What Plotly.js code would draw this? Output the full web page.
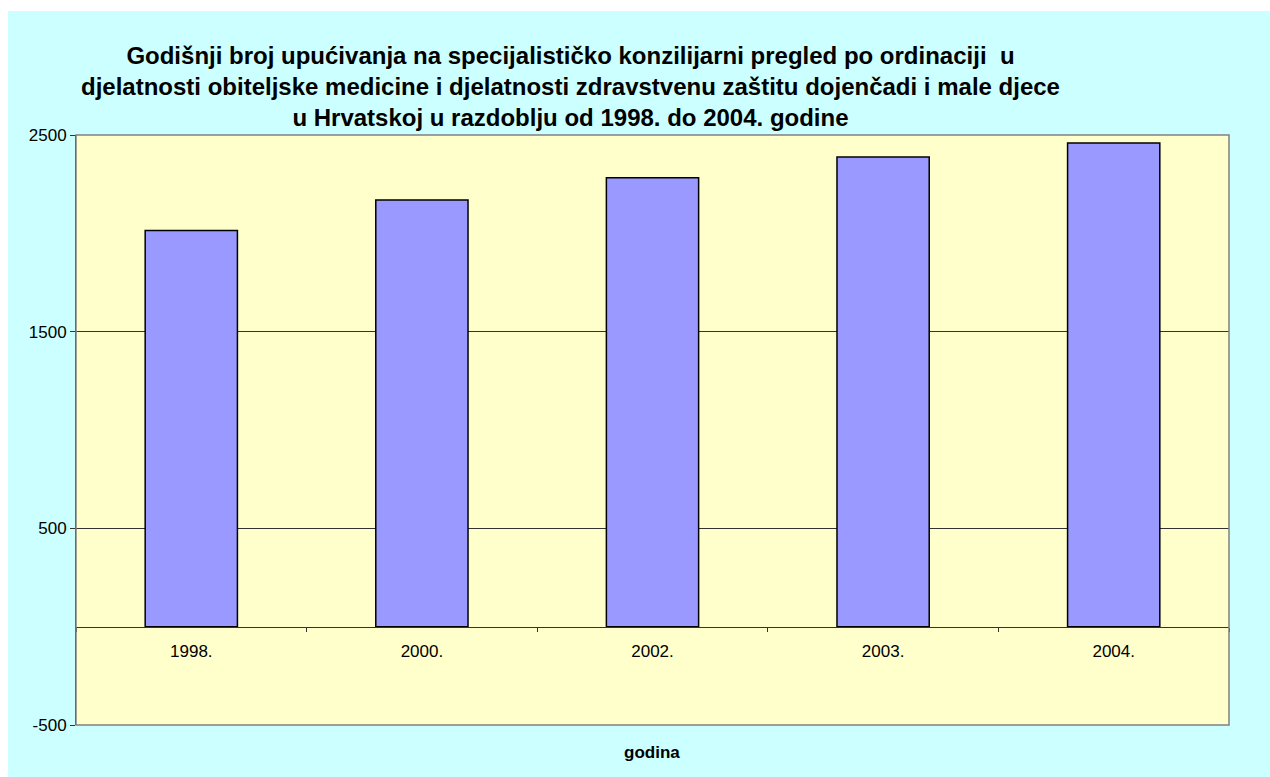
<!DOCTYPE html>
<html>
<head>
<meta charset="utf-8">
<script src="https://cdn.plot.ly/plotly-3.0.1.min.js"></script>
<style>
  html, body { margin: 0; padding: 0; background: #ffffff; }
  #chart { position: absolute; left: 8px; top: 11px; width: 1262px; height: 766px; }
</style>
</head>
<body>
<div id="chart"></div>
<script>
const years = ['1998.', '2000.', '2002.', '2003.', '2004.'];
const referrals = [2014, 2170, 2283, 2388, 2459];
const yTicks = [-500, 500, 1500, 2500];
const titleLines = [
  'Godišnji broj upućivanja na specijalističko konzilijarni pregled po ordinaciji  u',
  'djelatnosti obiteljske medicine i djelatnosti zdravstvenu zaštitu dojenčadi i male djece',
  'u Hrvatskoj u razdoblju od 1998. do 2004. godine'
];
const xTitle = 'godina';

const font = 'Liberation Sans, Arial, sans-serif';

const trace = {
  type: 'bar',
  x: years,
  y: referrals,
  marker: { color: '#9999FF', line: { color: '#000000', width: 1.5 } },
  hoverinfo: 'x+y'
};

const layout = {
  width: 1262,
  height: 766,
  paper_bgcolor: '#CCFFFF',
  plot_bgcolor: '#FFFFCC',
  margin: { l: 68, r: 41, t: 124, b: 52 },
  showlegend: false,
  bargap: 0.6,
  font: { family: font, size: 17, color: '#000000' },
  xaxis: {
    type: 'category',
    anchor: 'free',
    position: 500 / 3000,
    showline: true,
    linecolor: '#333333',
    linewidth: 1,
    ticks: 'outside',
    tickson: 'boundaries',
    ticklen: 4,
    tickcolor: '#333333',
    ticklabelstandoff: 9,
    showgrid: false,
    zeroline: false,
    tickfont: { family: font, size: 17, color: '#000000' }
  },
  yaxis: {
    range: [-500, 2500],
    tickvals: yTicks,
    ticktext: yTicks.map(String),
    showgrid: true,
    gridcolor: '#333333',
    gridwidth: 1,
    zeroline: false,
    showline: true,
    linecolor: '#333333',
    linewidth: 1,
    ticks: 'outside',
    ticklen: 5,
    tickcolor: '#333333',
    tickfont: { family: font, size: 17, color: '#000000' }
  },
  shapes: [{
    type: 'rect', xref: 'paper', yref: 'paper', x0: 0, x1: 1, y0: 0, y1: 1,
    line: { color: '#808080', width: 1.5 }, fillcolor: 'rgba(0,0,0,0)', layer: 'above'
  }],
  annotations: [
    {
      text: '<b>' + titleLines.join('<br>') + '</b>',
      xref: 'paper', yref: 'paper',
      x: (570 - 76) / 1153, y: (725 - 86) / 590,
      xanchor: 'center', yanchor: 'middle',
      showarrow: false,
      align: 'center',
      font: { family: font, size: 24, color: '#000000' }
    },
    {
      text: '<b>' + xTitle + '</b>',
      xref: 'paper', yref: 'paper',
      x: (652 - 76) / 1153, y: (725 - 752) / 590,
      xanchor: 'center', yanchor: 'middle',
      showarrow: false,
      font: { family: font, size: 17, color: '#000000' }
    }
  ]
};

Plotly.newPlot('chart', [trace], layout, { displayModeBar: false });
</script>
</body>
</html>
